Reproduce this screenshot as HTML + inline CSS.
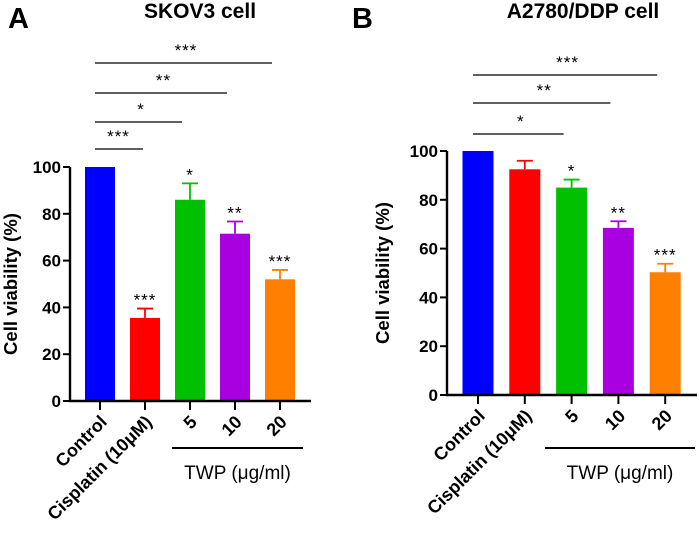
<!DOCTYPE html>
<html><head><meta charset="utf-8"><style>
html,body{margin:0;padding:0;background:#fff;}
svg{display:block;font-family:"Liberation Sans",Arial,sans-serif;}
</style></head><body>
<svg id="fig" width="699" height="534" viewBox="0 0 699 534"></svg>
<script>
const categories = ["Control","Cisplatin (10μM)","5","10","20"];
const colors = ["#0000ff","#ff0000","#00c000","#a800e0","#ff8000"];
const valuesA = [100, 35.5, 86, 71.5, 52];
const errorsA = [0, 4, 7, 5.2, 4];
const starsA = ["", "***", "*", "**", "***"];
const valuesB = [100, 92.5, 85, 68.5, 50.3];
const errorsB = [0, 3.5, 3.3, 2.7, 3.5];
const starsB = ["", "", "*", "**", "***"];
const bracketTargetsA = [1, 2, 3, 4];
const bracketStarsA = ["***", "*", "**", "***"];
const bracketTargetsB = [2, 3, 4];
const bracketStarsB = ["*", "**", "***"];
const yTicks = [0, 20, 40, 60, 80, 100];

const NS = "http://www.w3.org/2000/svg";
const svg = document.getElementById("fig");
function mk(tag, attrs, parent, text){
  const e = document.createElementNS(NS, tag);
  for (const k in attrs) e.setAttribute(k, attrs[k]);
  if (text !== undefined) e.textContent = text;
  (parent || svg).appendChild(e);
  return e;
}

function panel(cfg){
  const g = mk("g", {});
  
  
  const y = v => cfg.y0 - (cfg.y0 - cfg.y100) * v / 100;
  const x = i => cfg.x0c + i * cfg.step;
  const L = mk("text", {x: cfg.letterX, y: 28, "font-size": 29, "font-weight": "bold"}, g, cfg.letter);
  
  
  const T = mk("text", {x: cfg.titleX, y: 18, "font-size": 21, "font-weight": "bold", "text-anchor": "middle"}, g, cfg.title);
  
  
  cfg.values.forEach((v, i) => {
    const top = y(v + cfg.errors[i]);
    if (cfg.errors[i] > 0) {
      const eb = mk("path", {d: `M${x(i)},${y(v)}V${top}M${x(i)-8},${top}H${x(i)+8}`, stroke: colors[i], "stroke-width": 1.8, fill: "none"}, g);
      
      
    }
    const r = mk("rect", {x: x(i) - cfg.bw/2, y: y(v), width: cfg.bw, height: cfg.y0 - y(v), fill: colors[i]}, g);
    
    
    if (cfg.stars[i]) {
      const s = mk("text", {x: x(i), y: top - 3, "font-size": 17, "letter-spacing": 1, "text-anchor": "middle"}, g, cfg.stars[i]);
      
      
    }
    const tk = mk("line", {x1: x(i), x2: x(i), y1: cfg.y0, y2: cfg.y0 + 9, stroke: "#000", "stroke-width": 2}, g);
    
    
    const lab = mk("text", {x: 0, y: 0, "font-size": 18, "font-weight": "bold", "text-anchor": "end", transform: `translate(${x(i)+8},${cfg.y0 + 22}) rotate(-45)`}, g, categories[i]);
    
    
  });
  const ax = mk("path", {d: `M${cfg.ax},${cfg.y100}V${cfg.y0}H${cfg.axEnd}`, stroke: "#000", "stroke-width": 2.4, fill: "none"}, g);
  
  
  yTicks.forEach(t => {
    const l = mk("line", {x1: cfg.ax - 7, x2: cfg.ax, y1: y(t), y2: y(t), stroke: "#000", "stroke-width": 2}, g);
    
    
    const tl = mk("text", {x: cfg.ax - 9, y: y(t) + 6, "font-size": 17, "font-weight": "bold", "text-anchor": "end"}, g, t);
    
    
  });
  const yl = mk("text", {x: 0, y: 0, "font-size": 18.5, "font-weight": "bold", "text-anchor": "middle", transform: `translate(${cfg.ylx},${(cfg.y0 + cfg.y100)/2}) rotate(-90)`}, g, "Cell viability (%)");
  
  
  cfg.brTargets.forEach((ti, k) => {
    const by = cfg.brY[k];
    const bl = mk("line", {x1: x(0) - 5, x2: x(ti) - 8 + (k === 0 && cfg.letter === "A" ? 6 : 0), y1: by, y2: by, stroke: "#000", "stroke-width": 1.3}, g);
    
    
    const bs = mk("text", {x: (x(0) + x(ti)) / 2 - 4, y: by - 7, "font-size": 17, "letter-spacing": 1, "text-anchor": "middle"}, g, cfg.brStars[k]);
    
    
  });
  const tw = mk("line", {x1: cfg.twX1, x2: cfg.twX2, y1: 448, y2: 448, stroke: "#000", "stroke-width": 2}, g);
  
  
  const twt = mk("text", {x: (cfg.twX1 + cfg.twX2) / 2, y: 479, "font-size": 19, "text-anchor": "middle"}, g, "TWP (μg/ml)");
  
  
}

panel({name: "panel-a-skov3", letter: "A", letterX: 8, title: "SKOV3 cell", titleX: 200,
  values: valuesA, errors: errorsA, stars: starsA,
  y0: 401, y100: 167, x0c: 100, step: 45, bw: 30, ax: 70, axEnd: 311, ylx: 17,
  brTargets: bracketTargetsA, brStars: bracketStarsA, brY: [149, 122, 93, 63],
  twX1: 172, twX2: 303});
panel({name: "panel-b-a2780", letter: "B", letterX: 352, title: "A2780/DDP cell", titleX: 583,
  values: valuesB, errors: errorsB, stars: starsB,
  y0: 395, y100: 151, x0c: 478, step: 46.8, bw: 31, ax: 447, axEnd: 697, ylx: 389,
  brTargets: bracketTargetsB, brStars: bracketStarsB, brY: [134, 103, 75],
  twX1: 545, twX2: 695});
</script>
</body></html>
